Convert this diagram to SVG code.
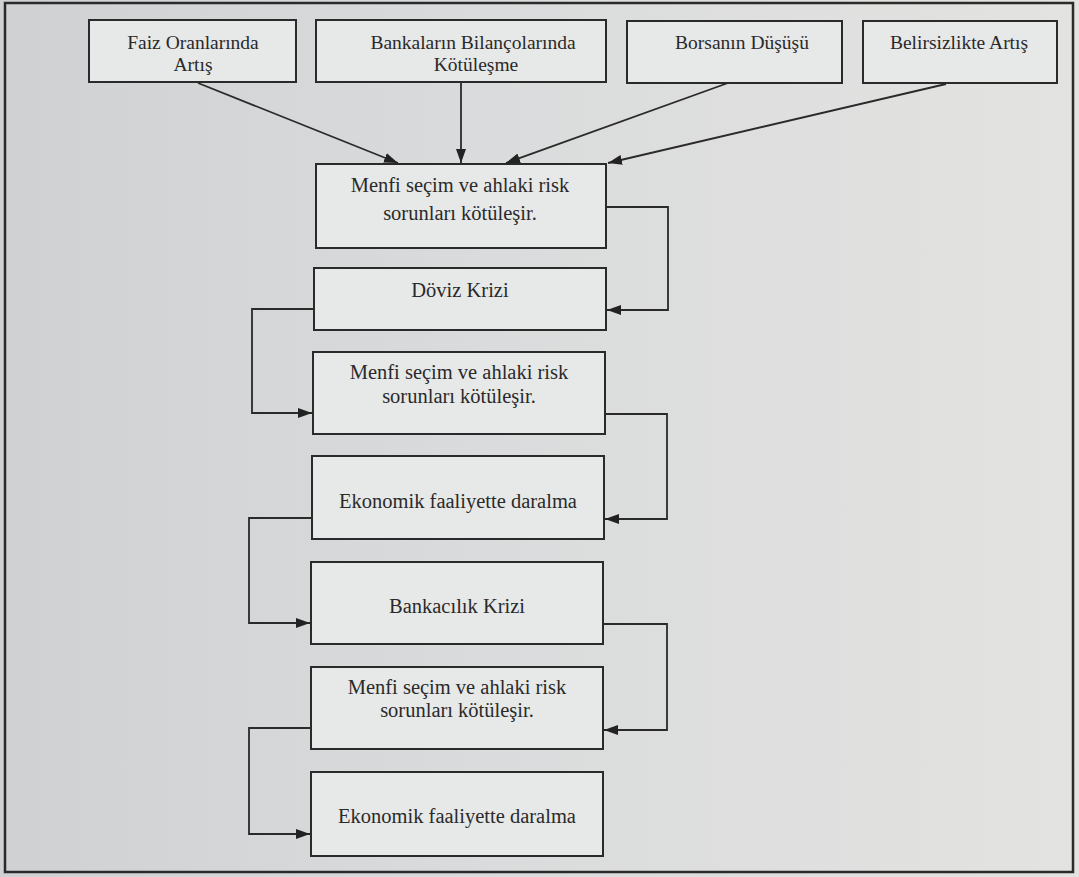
<svg xmlns="http://www.w3.org/2000/svg" width="1079" height="877" viewBox="0 0 1079 877">
<defs>
<linearGradient id="bg" x1="0" y1="0" x2="1" y2="0">
<stop offset="0" stop-color="#cfd1d3"/>
<stop offset="0.45" stop-color="#dadbdc"/>
<stop offset="1" stop-color="#e3e3e1"/>
</linearGradient>
<marker id="ah" viewBox="0 0 14 10" refX="14" refY="5" markerWidth="14" markerHeight="10" markerUnits="userSpaceOnUse" orient="auto">
<path d="M0,0 L14,5 L0,10 Z" fill="#222"/>
</marker>
<style>
.box{fill:#e7e8e8;stroke:#2a2a2a;stroke-width:2}
text{font-family:'Times New Roman','Liberation Serif','DejaVu Serif',serif;fill:#2a2a2a;text-anchor:middle}
.s{font-size:19.5px}
.m{font-size:20.5px}
.c{fill:none;stroke:#2a2a2a;stroke-width:1.8}
</style>
</defs>
<rect x="0" y="0" width="1079" height="877" fill="url(#bg)"/>
<rect x="5" y="3" width="1068" height="869" fill="none" stroke="#2a2a2a" stroke-width="2.5"/>

<g id="n1"><rect class="box" x="89" y="20" width="207" height="62"/>
<text class="s" x="193" y="49">Faiz Oranlarında</text><text class="s" x="193" y="71">Artış</text></g>
<g id="n2"><rect class="box" x="316" y="20" width="290" height="62"/>
<text class="s" x="473" y="49">Bankaların Bilançolarında</text><text class="s" x="476" y="71">Kötüleşme</text></g>
<g id="n3"><rect class="box" x="627" y="21" width="215" height="62"/>
<text class="s" x="742" y="49">Borsanın Düşüşü</text></g>
<g id="n4"><rect class="box" x="863" y="21" width="194" height="62"/>
<text class="s" x="959" y="49">Belirsizlikte Artış</text></g>

<g id="n5"><rect class="box" x="316" y="164" width="290" height="84"/>
<text class="m" x="460" y="192">Menfi seçim ve ahlaki risk</text><text class="m" x="460" y="220">sorunları kötüleşir.</text></g>
<g id="n6"><rect class="box" x="314" y="268" width="292" height="62"/>
<text class="m" x="460" y="297">Döviz Krizi</text></g>
<g id="n7"><rect class="box" x="313" y="352" width="292" height="82"/>
<text class="m" x="459" y="379">Menfi seçim ve ahlaki risk</text><text class="m" x="459" y="403">sorunları kötüleşir.</text></g>
<g id="n8"><rect class="box" x="312" y="456" width="292" height="83"/>
<text class="m" x="458" y="508">Ekonomik faaliyette daralma</text></g>
<g id="n9"><rect class="box" x="311" y="562" width="292" height="82"/>
<text class="m" x="457" y="613">Bankacılık Krizi</text></g>
<g id="n10"><rect class="box" x="311" y="667" width="292" height="82"/>
<text class="m" x="457" y="694">Menfi seçim ve ahlaki risk</text><text class="m" x="457" y="717">sorunları kötüleşir.</text></g>
<g id="n11"><rect class="box" x="311" y="772" width="292" height="84"/>
<text class="m" x="457" y="823">Ekonomik faaliyette daralma</text></g>

<g id="connectors">
<path class="c" d="M198,83 L398,163" marker-end="url(#ah)"/>
<path class="c" d="M461,82 L461,163" marker-end="url(#ah)"/>
<path class="c" d="M728,83 L506,163" marker-end="url(#ah)"/>
<path class="c" d="M946,84 L608,163" marker-end="url(#ah)"/>
<path class="c" d="M606,207 L668,207 L668,310 L607,310" marker-end="url(#ah)"/>
<path class="c" d="M314,309 L252,309 L252,413 L312,413" marker-end="url(#ah)"/>
<path class="c" d="M605,414 L667,414 L667,519 L605,519" marker-end="url(#ah)"/>
<path class="c" d="M312,518 L249,518 L249,623 L310,623" marker-end="url(#ah)"/>
<path class="c" d="M603,624 L667,624 L667,730 L604,730" marker-end="url(#ah)"/>
<path class="c" d="M311,728 L249,728 L249,834 L310,834" marker-end="url(#ah)"/>
</g>
</svg>
